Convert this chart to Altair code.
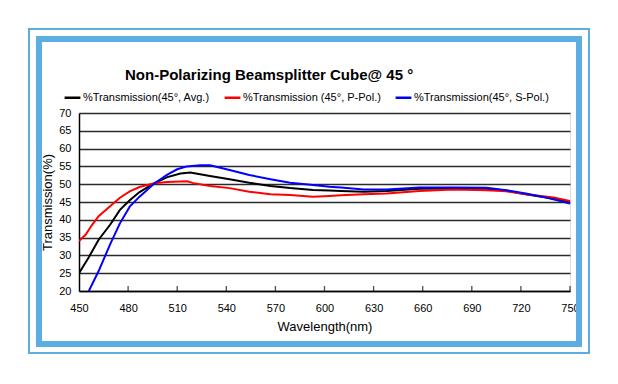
import altair as alt
import pandas as pd

# ---- data ----
wl_avg = [450, 456, 462, 469, 475, 481, 487, 496, 504, 512, 518, 524, 530, 542, 554, 567, 579,
          593, 603, 610, 624, 638, 658, 679, 699, 711, 723, 740, 750]
t_avg = [25.0, 29.5, 34.4, 38.6, 42.8, 45.5, 47.8, 50.3, 52.0, 53.0, 53.3, 52.8, 52.3, 51.4, 50.4,
         49.5, 48.9, 48.4, 48.2, 48.1, 47.9, 48.1, 48.7, 48.8, 48.7, 48.2, 47.2, 45.9, 45.0]

wl_p = [450, 454, 458, 462, 469, 475, 481, 487, 496, 504, 516, 520, 530, 542, 554, 567, 579,
        593, 603, 610, 624, 638, 658, 679, 699, 711, 723, 740, 750]
t_p = [34.0, 35.8, 38.6, 41.0, 43.8, 46.2, 48.0, 49.2, 50.3, 50.6, 50.8, 50.3, 49.5, 48.9, 47.9,
       47.2, 47.0, 46.5, 46.7, 46.9, 47.2, 47.4, 48.1, 48.5, 48.3, 48.0, 47.2, 46.3, 45.3]

wl_s = [456, 462, 469, 475, 481, 487, 496, 504, 510, 516, 524, 530, 542, 554, 567, 579, 593,
        603, 610, 624, 638, 658, 679, 699, 711, 723, 735, 750]
t_s = [20.0, 25.6, 33.1, 39.0, 43.7, 46.5, 50.2, 52.7, 54.2, 55.0, 55.3, 55.3, 54.0, 52.6, 51.4,
       50.4, 49.8, 49.3, 49.1, 48.5, 48.5, 49.1, 49.1, 49.0, 48.3, 47.4, 46.3, 44.6]

series_names = ["%Transmission(45°, Avg.)", "%Transmission (45°, P-Pol.)", "%Transmission(45°, S-Pol.)"]
series_colors = ["#000000", "#ff0000", "#0000ff"]
x_ticks = [450, 480, 510, 540, 570, 600, 630, 660, 690, 720, 750]
y_ticks = [20, 25, 30, 35, 40, 45, 50, 55, 60, 65, 70]

title_text = "Non-Polarizing Beamsplitter Cube@ 45 °"
FONT = "Liberation Sans"
FRAME = "#5dade2"

rows = []
for name, wls, ts in zip(series_names, [wl_avg, wl_p, wl_s], [t_avg, t_p, t_s]):
    for w, t in zip(wls, ts):
        rows.append({"wl": w, "t": t, "series": name})
df = pd.DataFrame(rows)

W, H = 491, 178

xscale = alt.Scale(domain=[450, 750], nice=False, zero=False)
yscale = alt.Scale(domain=[20, 70], nice=False, zero=False)

xaxis = alt.Axis(values=x_ticks, format="d", title="Wavelength(nm)", grid=False,
                 tickSize=0, labelPadding=11, labelFontSize=11, labelFont=FONT,
                 labelColor="#000", titleFont=FONT, titleFontSize=13,
                 titleFontWeight="normal", titleColor="#000", titlePadding=7,
                 domainColor="#000", domainWidth=1.5, labelFlush=False,
                 labelOverlap=False, zindex=0)
yaxis = alt.Axis(values=y_ticks, title="Transmission(%)", grid=True, gridColor="#2b2b2b",
                 gridWidth=1.4, tickSize=0, labelPadding=8, labelFontSize=11,
                 labelFont=FONT, labelColor="#000", titleFont=FONT, titleFontSize=13,
                 titleFontWeight="normal", titleColor="#000", titlePadding=4,
                 domainColor="#000", domainWidth=1.5, labelOverlap=False, zindex=0)

lines = alt.Chart(df).mark_line(strokeWidth=2, clip=True).encode(
    x=alt.X("wl:Q", scale=xscale, axis=xaxis),
    y=alt.Y("t:Q", scale=yscale, axis=yaxis),
    color=alt.Color("series:N", scale=alt.Scale(domain=series_names, range=series_colors),
                    sort=series_names,
                    legend=alt.Legend(title=None, orient="none", legendX=-16, legendY=-25,
                                      direction="horizontal", symbolType="stroke",
                                      symbolStrokeWidth=2.5, symbolSize=250, labelFontSize=11,
                                      labelFont=FONT, labelColor="#000", labelLimit=0,
                                      columnPadding=9, labelOffset=1)),
)

ticks = alt.Chart(pd.DataFrame({"wl": x_ticks[1:]})).mark_tick(
    color="#000", thickness=1.3, size=5, yOffset=-2.5
).encode(x=alt.X("wl:Q", scale=xscale, axis=xaxis),
         y=alt.Y(datum=20, scale=yscale, axis=yaxis))

outer = alt.Chart(pd.DataFrame({"a": [0]})).mark_rect(
    filled=False, stroke=FRAME, strokeWidth=2
).encode(x=alt.value(-50), x2=alt.value(510), y=alt.value(-84), y2=alt.value(240))

inner = alt.Chart(pd.DataFrame({"a": [0]})).mark_rect(
    filled=False, stroke=FRAME, strokeWidth=6
).encode(x=alt.value(-40), x2=alt.value(500), y=alt.value(-74), y2=alt.value(231))

chart = alt.layer(lines, ticks, outer, inner).properties(
    width=W, height=H,
    title=alt.Title(title_text, font=FONT, fontSize=15, fontWeight="bold", color="#000",
                    anchor="start", frame="group", dx=46, offset=-55),
    autosize="none",
    padding={"left": 71, "top": 105, "right": 32, "bottom": 78},
).configure_view(stroke=None).configure(background="#ffffff")

chart.save("out.html", embed_options={"renderer": "svg", "actions": False})
